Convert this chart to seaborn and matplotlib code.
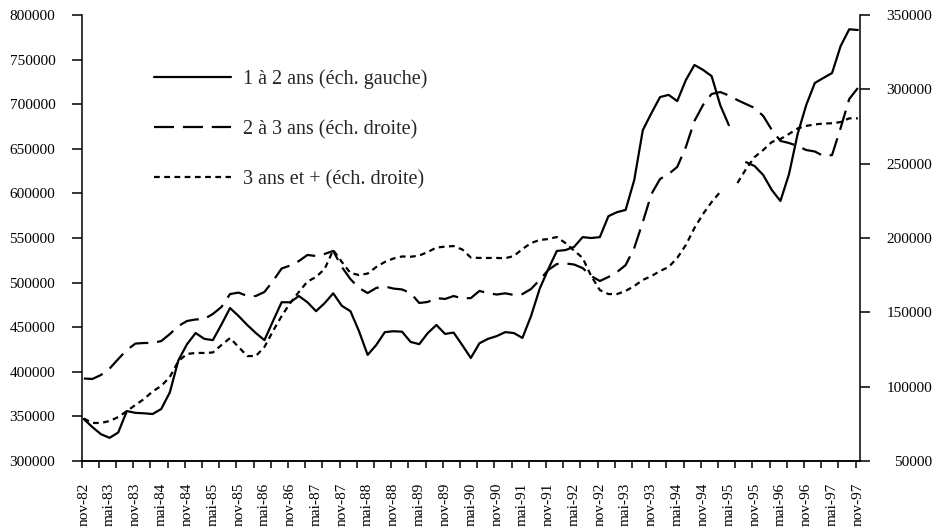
import numpy as np
import pandas as pd
import seaborn as sns
import matplotlib
matplotlib.use("Agg")
import matplotlib.pyplot as plt
from matplotlib.ticker import FuncFormatter

# mois écoulés depuis nov-82 (un point tous les deux mois)
mois = list(range(0, 181, 2))

# 1 à 2 ans (échelle gauche)
un_a_deux = [
    347000, 338000, 330000, 326000, 332000, 356000, 354000, 353500, 352700, 358300,
    377000, 413000, 431000, 443500, 437000, 435500, 453000, 471500, 462500, 452500,
    443500, 435500, 457000, 478000, 478000, 485000, 478000, 468000, 477000, 488000,
    474000, 468000, 445500, 419000, 430000, 444500, 445500, 445000, 433500, 431000,
    443500, 452500, 442500, 444000, 430000, 415500, 432000, 437000, 440000, 444500,
    443500, 438000, 462500, 493000, 515000, 535500, 536500, 540000, 551000, 550000,
    551000, 574500, 579000, 581500, 615000, 671000, 690000, 708000, 710500, 703500,
    727000, 744000, 738500, 731500, 699000, 676500, np.nan, 635000, 630700, 620600,
    603800, 591500, 621700, 666600, 699100, 723800, 729500, 734900, 765200, 784000,
    783200,
]

# 2 à 3 ans (échelle droite)
deux_a_trois = [
    105500, 105200, 107900, 112200, 118600, 124700, 129000, 129400, 129400, 130700,
    135400, 140800, 144200, 145200, 145500, 148900, 153600, 162300, 163300, 161000,
    161000, 163700, 171100, 179500, 181500, 184500, 188600, 187900, 189300, 191300,
    180500, 172400, 166400, 163000, 166400, 167400, 166000, 165400, 163000, 156300,
    157000, 159600, 159000, 161000, 159400, 159600, 164400, 163000, 162000, 162800,
    161700, 162300, 165700, 171800, 178500, 182500, 182900, 182200, 179800, 174400,
    171100, 173800, 177100, 181800, 193300, 210800, 229600, 239700, 243100, 247800,
    261200, 278700, 289500, 296900, 298200, 295900, 292800, 290100, 287500, 282100,
    272700, 265300, 263900, 261900, 259200, 258200, 255200, 255800, 274000, 293500,
    300900,
]

# 3 ans et + (échelle droite)
trois_et_plus = [
    78600, 75600, 75600, 76900, 79600, 83600, 87700, 91700, 96800, 100500,
    106500, 117300, 122000, 122700, 122700, 123000, 128000, 132700, 126700, 120600,
    120600, 126700, 137500, 147500, 156300, 163700, 170700, 173800, 179200, 191900,
    183900, 176500, 175100, 176100, 180500, 183900, 186200, 187600, 187400, 188200,
    190600, 193600, 194200, 194600, 192300, 186900, 186600, 186600, 186600, 186400,
    187900, 192600, 196600, 198700, 199300, 200700, 196600, 191600, 186600, 174400,
    165000, 162300, 162300, 164400, 167700, 171800, 174400, 177800, 180500, 186600,
    195300, 206700, 216200, 224200, 231000, np.nan, 237000, 246400, 254500, 259200,
    264600, 266600, 270000, 273700, 275400, 276400, 277000, 277200, 278000, 280500,
    280500,
]

etiquettes = [
    "nov-82", "mai-83", "nov-83", "mai-84", "nov-84", "mai-85", "nov-85", "mai-86",
    "nov-86", "mai-87", "nov-87", "mai-88", "nov-88", "mai-89", "nov-89", "mai-90",
    "nov-90", "mai-91", "nov-91", "mai-92", "nov-92", "mai-93", "nov-93", "mai-94",
    "nov-94", "mai-95", "nov-95", "mai-96", "nov-96", "mai-97", "nov-97",
]

sns.set_style("ticks")
plt.rcParams['font.family'] = ['Liberation Serif', 'DejaVu Serif']
plt.rcParams['axes.edgecolor'] = 'black'
plt.rcParams['xtick.color'] = 'black'
plt.rcParams['ytick.color'] = 'black'

fig = plt.figure(figsize=(9.41, 5.29), dpi=100)
ax = fig.add_axes([0.0868, 0.1285, 0.8271, 0.8431])
ax2 = ax.twinx()


def trace(axe, valeurs, style, nom):
    # une courbe par morceau continu (les trous restent vides)
    df = pd.DataFrame({"mois": mois, "val": valeurs})
    bloc = df["val"].isna().cumsum()
    premier = True
    for _, seg in df[df["val"].notna()].groupby(bloc[df["val"].notna()]):
        sns.lineplot(data=seg, x="mois", y="val", ax=axe, color="black",
                     linewidth=1.6, linestyle=style,
                     label=nom if premier else None)
        premier = False


trace(ax, un_a_deux, "-", "1 à 2 ans (éch. gauche)")
trace(ax2, deux_a_trois, (0, (9, 4)), "2 à 3 ans (éch. droite)")
trace(ax2, trois_et_plus, (0, (2.6, 2)), "3 ans et + (éch. droite)")

for a in (ax, ax2):
    a.set_xlabel("")
    a.set_ylabel("")
    if a.get_legend() is not None:
        a.get_legend().remove()

ax.set_xlim(-0.5, 180.5)
ax.set_ylim(300000, 800000)
ax2.set_ylim(50000, 350000)

fmt = FuncFormatter(lambda v, p: "%d" % v)
ax.set_yticks(range(300000, 800001, 50000))
ax.yaxis.set_major_formatter(fmt)
ax2.set_yticks(range(50000, 350001, 50000))
ax2.yaxis.set_major_formatter(fmt)

# graduations tous les 4 mois, étiquettes tous les 6 mois
ax.set_xticks(np.arange(-0.5, 181, 4))
ax.set_xticklabels([])
ax.set_xticks(range(0, 181, 6), minor=True)
ax.set_xticklabels(etiquettes, minor=True, rotation=90, fontsize=11)
ax.tick_params(axis="x", which="major", direction="out", length=5, width=1.1)
ax.tick_params(axis="x", which="minor", length=0, pad=15.5)
ax.tick_params(axis="y", direction="out", length=7, width=1.1, pad=12, labelsize=11)
ax2.tick_params(axis="y", direction="out", length=7, width=1.1, pad=45, labelsize=11)
for lab in ax2.get_yticklabels():
    lab.set_horizontalalignment("right")

ax.spines["top"].set_visible(False)
ax.spines["right"].set_visible(False)
ax2.spines["top"].set_visible(False)
ax2.spines["left"].set_visible(False)
for a in (ax, ax2):
    for s in a.spines.values():
        s.set_linewidth(1.1)
        s.set_color("black")

h1, l1 = ax.get_legend_handles_labels()
h2, l2 = ax2.get_legend_handles_labels()
ax2.legend(h1 + h2, l1 + l2, loc="upper left", bbox_to_anchor=(0.093, 0.879),
           frameon=False, fontsize=14.5, handlelength=3.8, handletextpad=0.6,
           labelspacing=1.54, borderpad=0, borderaxespad=0)

fig.savefig("out.png", dpi=100)
